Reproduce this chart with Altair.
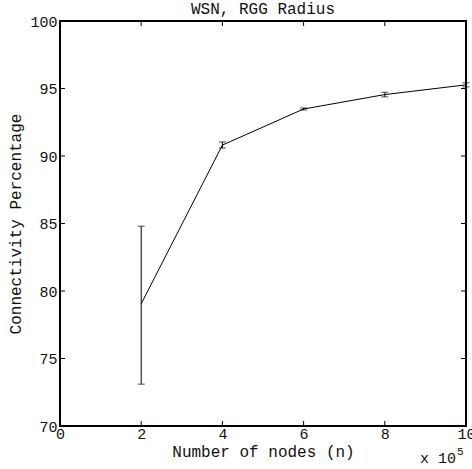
import altair as alt
import pandas as pd

# Data
nodes = [2, 4, 6, 8, 10]            # x 10^5
conn_mean = [79.05, 90.81, 93.48, 94.55, 95.27]
conn_low = [73.1, 90.59, 93.41, 94.38, 95.12]
conn_high = [84.8, 91.04, 93.56, 94.72, 95.42]
x_ticks = [0, 2, 4, 6, 8, 10]
y_ticks = [70, 75, 80, 85, 90, 95, 100]

W, H = 406, 405
FONT = "Liberation Mono"
TXT = "#111"

df = pd.DataFrame({"n": nodes, "mean": conn_mean, "lo": conn_low, "hi": conn_high})
dfx = pd.DataFrame({"t": x_ticks})
dfy = pd.DataFrame({"t": y_ticks})

xs = alt.Scale(domain=[0, 10], nice=False)
ys = alt.Scale(domain=[70, 100], nice=False)

x_axis = alt.Axis(values=x_ticks, title="Number of nodes (n)", grid=False, domain=False,
                  ticks=False, labelPadding=0, labelFontSize=15, titleFontSize=16,
                  labelFlush=False, labelOverlap=False, labelBound=False,
                  labelFont=FONT, titleFont=FONT, titleFontWeight="normal",
                  labelColor=TXT, titleColor=TXT, titlePadding=2)
y_axis = alt.Axis(values=y_ticks, title="Connectivity Percentage", grid=False, domain=False,
                  ticks=False, labelPadding=3, labelFontSize=15, titleFontSize=16,
                  labelFlush=False, labelOverlap=False, labelBound=False,
                  labelFont=FONT, titleFont=FONT, titleFontWeight="normal",
                  labelColor=TXT, titleColor=TXT, titlePadding=6)

line = alt.Chart(df).mark_line(color="black", strokeWidth=1).encode(
    x=alt.X("n:Q", scale=xs, axis=x_axis),
    y=alt.Y("mean:Q", scale=ys, axis=y_axis),
)

err = alt.Chart(df).mark_errorbar(ticks=alt.MarkConfig(size=7), color="black", thickness=1).encode(
    x=alt.X("n:Q", scale=xs),
    y=alt.Y("lo:Q", scale=ys, title=""),
    y2="hi:Q",
)

tk = 5
xt_bottom = alt.Chart(dfx).mark_rule(color="black", strokeWidth=1).encode(
    x=alt.X("t:Q", scale=xs), y=alt.value(H), y2=alt.value(H - tk))
xt_top = alt.Chart(dfx).mark_rule(color="black", strokeWidth=1).encode(
    x=alt.X("t:Q", scale=xs), y=alt.value(0), y2=alt.value(tk))
yt_left = alt.Chart(dfy).mark_rule(color="black", strokeWidth=1).encode(
    y=alt.Y("t:Q", scale=ys), x=alt.value(0), x2=alt.value(tk))
yt_right = alt.Chart(dfy).mark_rule(color="black", strokeWidth=1).encode(
    y=alt.Y("t:Q", scale=ys), x=alt.value(W), x2=alt.value(W - tk))

exp_base = alt.Chart(pd.DataFrame({"s": ["x 10"]})).mark_text(
    font=FONT, fontSize=15, align="left", baseline="alphabetic", color=TXT).encode(
    text="s:N", x=alt.value(W - 46), y=alt.value(H + 37))
exp_sup = alt.Chart(pd.DataFrame({"s": ["5"]})).mark_text(
    font=FONT, fontSize=11, align="left", baseline="alphabetic", color=TXT).encode(
    text="s:N", x=alt.value(W - 9), y=alt.value(H + 29))

chart = alt.layer(err, line, xt_bottom, xt_top, yt_left, yt_right, exp_base, exp_sup).properties(
    width=W, height=H,
    background="white",
    title=alt.TitleParams("WSN, RGG Radius", font=FONT, fontSize=16, fontWeight="normal",
                          color=TXT, offset=-3, anchor="middle"),
    autosize=alt.AutoSizeParams(type="none"),
    padding={"left": 60, "top": 21, "right": 6, "bottom": 43},
).configure_view(stroke="black", strokeWidth=2)

chart.save("out.html", embed_options={"renderer": "svg", "actions": False})
